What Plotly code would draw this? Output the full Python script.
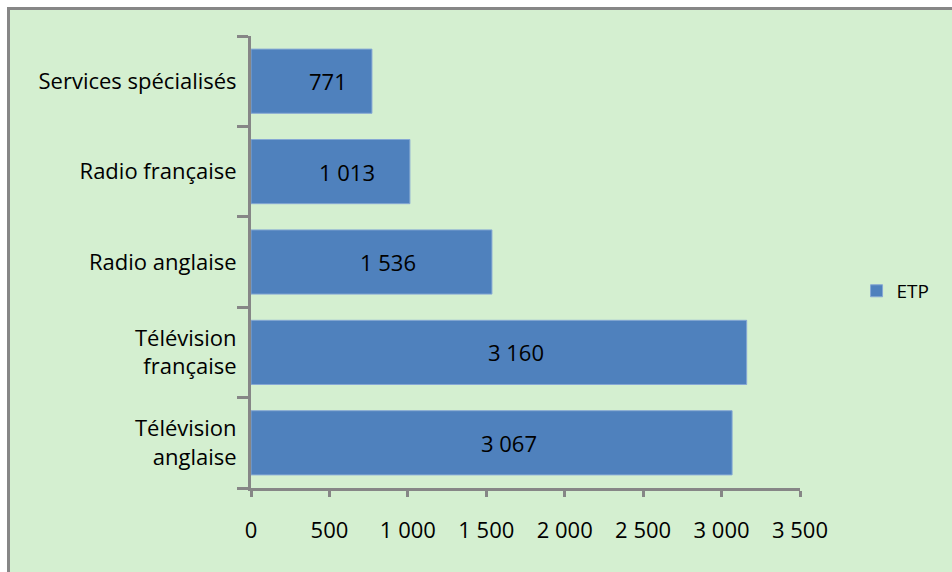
import plotly.graph_objects as go

# Effectifs (ETP) par composante, du bas vers le haut de l'axe
categories = [
    "Télévision<br>anglaise",
    "Télévision<br>française",
    "Radio anglaise",
    "Radio française",
    "Services spécialisés",
]
etp = [3067, 3160, 1536, 1013, 771]
x_ticks = [0, 500, 1000, 1500, 2000, 2500, 3000, 3500]
x_tick_text = ["0", "500", "1 000", "1 500", "2 000", "2 500", "3 000", "3 500"]

FONT = "'Open Sans', 'Noto Sans', sans-serif"
AXIS_GREY = "#868686"
BAR_BLUE = "#4f81bd"
TEXT_SIZE = 22


def fmt(v):
    return f"{v:,}".replace(",", " ")


fig = go.Figure()
fig.add_trace(
    go.Bar(
        y=categories,
        x=etp,
        orientation="h",
        name="ETP",
        width=0.71,
        marker=dict(color=BAR_BLUE, line=dict(color="#86a8d4", width=1)),
        hoverinfo="x+y",
    )
)

# value labels inside each bar
for c, v in zip(categories, etp):
    fig.add_annotation(
        x=v / 2, y=c, text=fmt(v), showarrow=False, xshift=17,
        font=dict(family=FONT, size=TEXT_SIZE, color="#000000"),
    )

# chart frame
fig.add_shape(
    type="rect", xref="paper", yref="paper",
    x0=(8.5 - 251) / 549, x1=1.6, y0=-0.4, y1=(488 - 8.5) / 452,
    line=dict(color="#878787", width=3), fillcolor="#d4efd0", layer="below",
)

fig.update_layout(
    width=952, height=572,
    margin=dict(l=251, r=152, t=36, b=84),
    paper_bgcolor="#ffffff",
    plot_bgcolor="rgba(0,0,0,0)",
    separators=", ",
    font=dict(family=FONT, size=TEXT_SIZE, color="#000000"),
    showlegend=True,
    legend=dict(
        x=1.103, y=0.436, xanchor="left", yanchor="middle",
        bgcolor="rgba(0,0,0,0)", font=dict(family=FONT, size=19, color="#000000"),
    ),
    xaxis=dict(
        range=[0, 3500], tickvals=x_ticks, ticktext=x_tick_text,
        showgrid=False, zeroline=False, showline=True,
        linecolor=AXIS_GREY, linewidth=3,
        ticks="outside", ticklen=6, tickwidth=3, tickcolor=AXIS_GREY,
        ticklabelstandoff=15, tickfont=dict(size=TEXT_SIZE),
    ),
    yaxis=dict(
        categoryorder="array", categoryarray=categories,
        showgrid=False, zeroline=False, showline=True,
        linecolor=AXIS_GREY, linewidth=3,
        ticks="outside", ticklen=11, tickwidth=3, tickcolor=AXIS_GREY,
        tickson="boundaries", tickfont=dict(size=TEXT_SIZE),
        ticklabelstandoff=7,
    ),
    bargap=0.29,
)

fig.write_html("out.html")
